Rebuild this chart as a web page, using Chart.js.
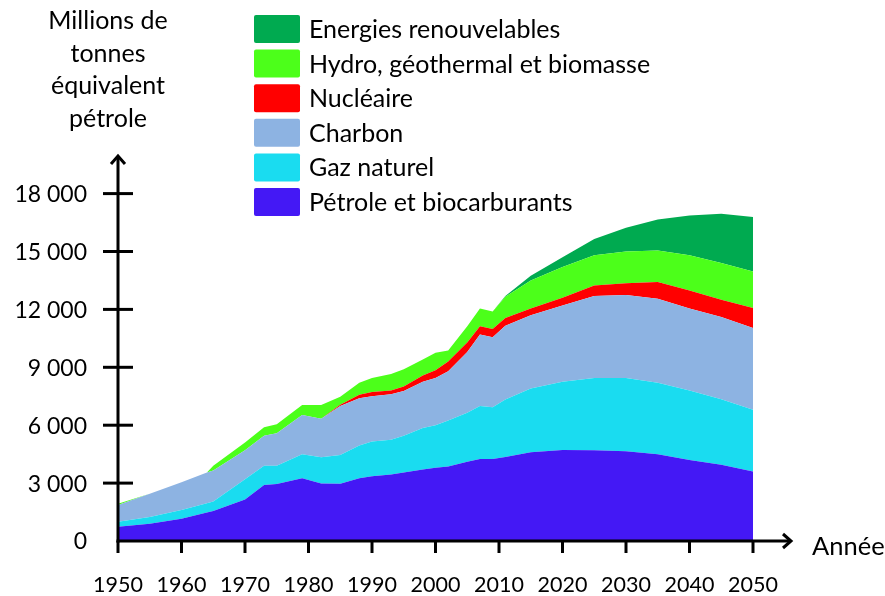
<!DOCTYPE html>
<html>
<head>
<meta charset="utf-8">
<script src="https://cdn.jsdelivr.net/npm/chart.js@4.4.1/dist/chart.umd.min.js"></script>
<style>
  html, body { margin: 0; padding: 0; background: #fff; }
  canvas { display: block; }
</style>
</head>
<body>
<canvas id="chart" width="885" height="596"></canvas>
<script>
// values, Mtep, per source (stacked)
const years = [1950, 1955, 1960, 1964, 1965, 1970, 1973, 1975, 1979, 1982, 1985, 1988, 1990, 1993, 1995,
  1998, 2000, 2002, 2005, 2007, 2009, 2011, 2015, 2020, 2025, 2030, 2035, 2040, 2045, 2050]

const petrole = [740, 900, 1150, 1480, 1550, 2150, 2900, 2950, 3250, 2980, 2960, 3250, 3350, 3450, 3550,
  3700, 3800, 3860, 4100, 4250, 4250, 4350, 4600, 4720, 4700, 4650, 4500, 4200, 3950, 3600]
const gaz = [260, 350, 450, 470, 500, 1050, 1000, 950, 1250, 1360, 1490, 1700, 1800, 1800, 1900,
  2150, 2200, 2390, 2540, 2750, 2680, 2980, 3300, 3530, 3740, 3790, 3700, 3600, 3400, 3200]
const charbon = [870, 1200, 1450, 1600, 1600, 1500, 1550, 1680, 2030, 1990, 2550, 2450, 2350, 2350, 2320,
  2400, 2440, 2550, 3150, 3700, 3630, 3820, 3800, 3950, 4260, 4310, 4350, 4250, 4250, 4230]
const nucleaire = [0, 0, 0, 0, 0, 0, 0, 0, 0, 0, 60, 180, 220, 200, 230,
  330, 410, 500, 500, 430, 420, 400, 350, 400, 535, 600, 870, 930, 900, 1040]
const hydro = [60, 0, 0, 0, 250, 400, 450, 470, 520, 720, 420, 620, 730, 850, 900,
  820, 900, 570, 840, 920, 910, 1100, 1450, 1600, 1565, 1650, 1630, 1820, 1900, 1900]
const renouvelables = [0, 0, 0, 0, 0, 0, 0, 0, 0, 0, 0, 0, 0, 0, 0,
  0, 0, 0, 0, 0, 0, 50, 250, 500, 850, 1230, 1610, 2060, 2550, 2820]

const seriesNames = ['Pétrole et biocarburants', 'Gaz naturel', 'Charbon', 'Nucléaire',
  'Hydro, géothermal et biomasse', 'Energies renouvelables']
const seriesColors = ['#4418f5', '#1adcf0', '#8db3e2', '#ff0000', '#4cff1a', '#00aa50']

const yTicks = [0, 3000, 6000, 9000, 12000, 15000, 18000]
const yTickLabels = ['0', '3 000', '6 000', '9 000', '12 000', '15 000', '18 000']
const xTicks = [1950, 1960, 1970, 1980, 1990, 2000, 2010, 2020, 2030, 2040, 2050]
const yTitle = ['Millions de', 'tonnes', 'équivalent', 'pétrole']
const xTitle = 'Année'

const FONT = 'Lato, "Noto Sans", sans-serif'

const toPoints = vals => vals.map((v, i) => ({ x: years[i], y: v }))

const datasets = [petrole, gaz, charbon, nucleaire, hydro, renouvelables].map((vals, i) => ({
  label: seriesNames[i],
  data: toPoints(vals),
  backgroundColor: seriesColors[i],
  borderWidth: 0,
  pointRadius: 0,
  tension: 0,
  fill: i === 0 ? 'origin' : '-1'
}))

// axes with arrows, crossing ticks, labels and the legend
const decor = {
  id: 'decor',
  afterDatasetsDraw (chart) {
    const { ctx } = chart
    const xs = chart.scales.x
    const ys = chart.scales.y
    const x0 = xs.getPixelForValue(1950)
    const y0 = ys.getPixelForValue(0)
    const yTop = ys.getPixelForValue(20000)

    ctx.save()
    ctx.strokeStyle = '#000'
    ctx.lineWidth = 3
    ctx.lineCap = 'butt'

    // y axis + arrow
    ctx.beginPath()
    ctx.moveTo(x0, y0 + 1.5)
    ctx.lineTo(x0, yTop + 1)
    ctx.stroke()
    ctx.beginPath()
    ctx.moveTo(x0 - 7, yTop + 9)
    ctx.lineTo(x0, yTop + 1)
    ctx.lineTo(x0 + 7, yTop + 9)
    ctx.stroke()

    // x axis + arrow
    const xEnd = 792
    ctx.beginPath()
    ctx.moveTo(x0 - 1.5, y0)
    ctx.lineTo(xEnd - 1, y0)
    ctx.stroke()
    ctx.beginPath()
    ctx.moveTo(xEnd - 9, y0 - 7)
    ctx.lineTo(xEnd - 1, y0)
    ctx.lineTo(xEnd - 9, y0 + 7)
    ctx.stroke()

    // y ticks
    yTicks.forEach(v => {
      if (v === 0) return
      const y = ys.getPixelForValue(v)
      ctx.beginPath()
      ctx.moveTo(x0 - 15, y)
      ctx.lineTo(x0 + 15, y)
      ctx.stroke()
    })
    // x ticks
    xTicks.forEach(v => {
      const x = xs.getPixelForValue(v)
      ctx.beginPath()
      ctx.moveTo(x, y0)
      ctx.lineTo(x, y0 + 12)
      ctx.stroke()
    })

    ctx.fillStyle = '#000'
    ctx.textBaseline = 'middle'

    // tick labels
    ctx.font = '23px ' + FONT
    ctx.textAlign = 'right'
    yTicks.forEach((v, i) => {
      ctx.fillText(yTickLabels[i], 87, ys.getPixelForValue(v) + 1)
    })
    ctx.font = '21.5px ' + FONT
    ctx.textAlign = 'center'
    xTicks.forEach(v => {
      ctx.fillText(String(v), xs.getPixelForValue(v), 585)
    })

    // axis titles
    ctx.font = '25px ' + FONT
    ctx.textAlign = 'center'
    yTitle.forEach((t, i) => ctx.fillText(t, 108, 21 + i * 32.7))
    ctx.textAlign = 'left'
    ctx.font = '25.5px ' + FONT
    ctx.fillText(xTitle, 812, 547)

    // legend, top series first
    ctx.font = '25px ' + FONT
    const n = chart.data.datasets.length
    for (let k = 0; k < n; k++) {
      const ds = chart.data.datasets[n - 1 - k]
      const top = 15 + k * 34.6
      ctx.fillStyle = ds.backgroundColor
      ctx.beginPath()
      ctx.roundRect(254, top, 46, 28, 2)
      ctx.fill()
      ctx.fillStyle = '#000'
      ctx.fillText(ds.label, 309, top + 15)
    }
    ctx.restore()
  }
}

new Chart(document.getElementById('chart').getContext('2d'), {
  type: 'line',
  data: { datasets },
  options: {
    responsive: false,
    animation: false,
    devicePixelRatio: 1,
    layout: { padding: { left: 118, right: 132, top: 155, bottom: 55 } },
    plugins: { legend: { display: false }, tooltip: { enabled: false } },
    scales: {
      x: { type: 'linear', min: 1950, max: 2050, display: false },
      y: { stacked: true, min: 0, max: 20000, display: false }
    }
  },
  plugins: [decor]
})
</script>
</body>
</html>
